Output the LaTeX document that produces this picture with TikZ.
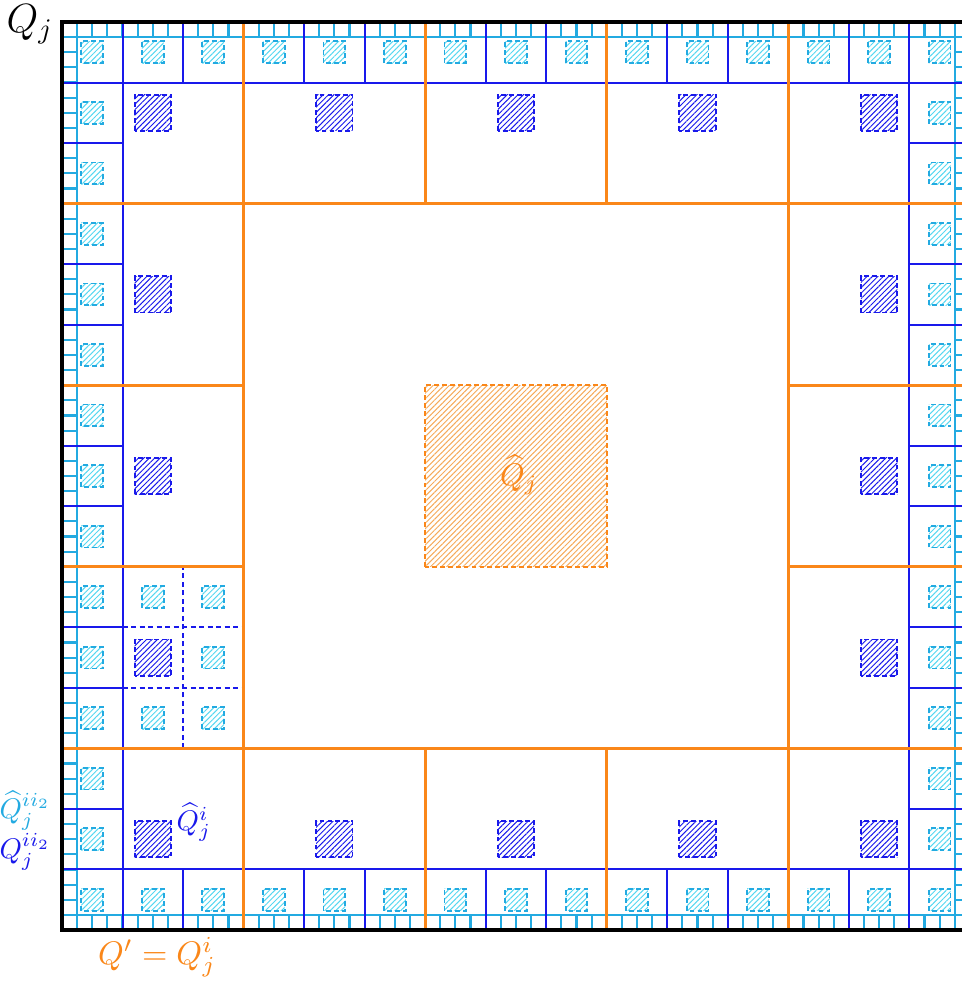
\documentclass[tikz,border=0pt]{standalone}
\usepackage{amsmath,amssymb}
\usepackage{xcolor}
\usepackage{tikz}
\usetikzlibrary{patterns.meta}

\definecolor{qorange}{RGB}{250,135,25}
\definecolor{qorangelight}{RGB}{245,170,90}
\definecolor{qblue}{RGB}{25,25,235}
\definecolor{qcyan}{RGB}{35,170,225}
\definecolor{qcyanlight}{RGB}{85,215,240}

\begin{document}
\begin{tikzpicture}[x=0.75cm, y=0.75cm,
  cyanline/.style={qcyan, line width=0.75pt},
  blueline/.style={qblue, line width=0.7pt},
  orangeline/.style={qorange, line width=0.95pt},
  hatchbox/.style={line width=0.65pt, dash pattern=on 1.7pt off 1.1pt,
    pattern={Lines[angle=45, distance=1.35pt, line width=0.35pt]}},
  cyanhatch/.style={hatchbox, draw=qcyan, pattern color=qcyanlight},
  bluehatch/.style={hatchbox, draw=qblue, pattern color=qblue},
  orangehatch/.style={hatchbox, draw=qorange, pattern color=qorangelight},
  lbl/.style={inner sep=0.5pt}]
  \useasboundingbox (-1.024,-0.843) rectangle (14.869,15.364);
  \clip (-1.024,-0.843) rectangle (14.869,15.364);

  % hatched cubes
  \path[orangehatch] (6,6) rectangle (9,9);
  \foreach \i/\j in {0/0,1/0,2/0,3/0,4/0,0/1,4/1,0/2,4/2,0/3,4/3,0/4,1/4,2/4,3/4,4/4}
    \path[bluehatch] ({3*\i+1.2},{3*\j+1.2}) rectangle +(0.6,0.6);
  \foreach \k in {0,...,14} {
    \path[cyanhatch] (\k+0.32,0.32) rectangle +(0.36,0.36);
    \path[cyanhatch] (\k+0.32,14.32) rectangle +(0.36,0.36);
  }
  \foreach \k in {1,...,13} {
    \path[cyanhatch] (0.32,\k+0.32) rectangle +(0.36,0.36);
    \path[cyanhatch] (14.32,\k+0.32) rectangle +(0.36,0.36);
  }
  \foreach \x/\y in {1/3,2/3,2/4,1/5,2/5}
    \path[cyanhatch] (\x+0.32,\y+0.32) rectangle +(0.36,0.36);

  % boundary strip
  \draw[cyanline] (0.25,0) -- (0.25,15) (14.75,0) -- (14.75,15)
    (0,0.25) -- (15,0.25) (0,14.75) -- (15,14.75);
  \foreach \k in {1,...,59}
    \draw[cyanline] ({\k/4},0) -- ({\k/4},0.25) ({\k/4},14.75) -- ({\k/4},15)
      (0,{\k/4}) -- (0.25,{\k/4}) (14.75,{\k/4}) -- (15,{\k/4});

  % small cubes
  \draw[blueline] (1,0) -- (1,15) (14,0) -- (14,15) (0,1) -- (15,1) (0,14) -- (15,14);
  \foreach \k in {2,4,5,7,8,10,11,13}
    \draw[blueline] (\k,0) -- (\k,1) (\k,14) -- (\k,15)
      (0,\k) -- (1,\k) (14,\k) -- (15,\k);
  \draw[blueline, dash pattern=on 1.8pt off 1.2pt] (2,3) -- (2,6) (1,4) -- (3,4) (1,5) -- (3,5);

  % big cubes
  \draw[orangeline] (3,0) -- (3,15) (12,0) -- (12,15) (0,3) -- (15,3) (0,12) -- (15,12)
    (6,0) -- (6,3) (9,0) -- (9,3) (6,12) -- (6,15) (9,12) -- (9,15)
    (0,6) -- (3,6) (0,9) -- (3,9) (12,6) -- (15,6) (12,9) -- (15,9);
  \draw[line width=1.2pt] (0,0) rectangle (15,15);

  \node[lbl, qorange, scale=1.1] (qhat) at (7.55,7.52) {$\widehat{Q}_j$};
  \node[lbl] (qj) at (-0.53,14.96) {\Large $Q_j$};
  \node[lbl, qblue] (qhati) at (2.18,1.78) {$\widehat{Q}_j^i$};
  \node[lbl, qcyan] (qhatii) at (-0.61,1.97) {$\widehat{Q}_j^{ii_2}$};
  \node[lbl, qblue] (qii) at (-0.61,1.29) {$Q_j^{ii_2}$};
  \node[lbl, qorange, scale=1.15] (qprime) at (1.57,-0.45) {$Q' = Q_j^i$};
\end{tikzpicture}
\end{document}
